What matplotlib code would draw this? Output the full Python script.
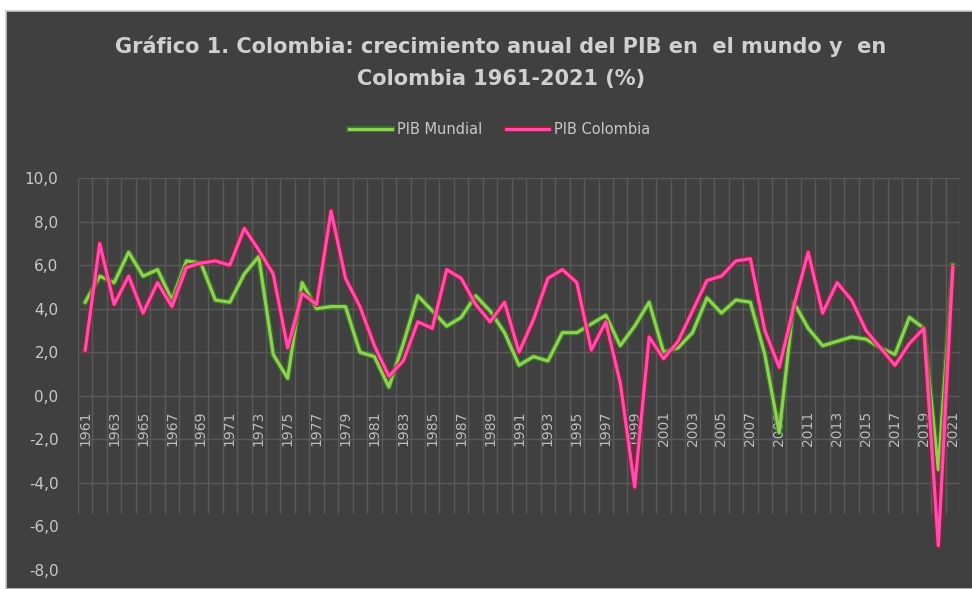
import matplotlib
matplotlib.use('Agg')
import matplotlib.pyplot as plt
import matplotlib.patches as mpatches
import matplotlib.patheffects as pe
from matplotlib.ticker import FuncFormatter

# Data (annual GDP growth, %)
years = list(range(1961, 2022))
pib_mundial = [4.3, 5.5, 5.2, 6.6, 5.5, 5.8, 4.4, 6.2, 6.1, 4.4,
               4.3, 5.6, 6.4, 1.9, 0.8, 5.2, 4.0, 4.1, 4.1, 2.0,
               1.8, 0.4, 2.4, 4.6, 3.9, 3.2, 3.6, 4.6, 3.9, 2.9,
               1.4, 1.8, 1.6, 2.9, 2.9, 3.3, 3.7, 2.3, 3.2, 4.3,
               2.0, 2.2, 2.9, 4.5, 3.8, 4.4, 4.3, 1.9, -1.7, 4.3,
               3.1, 2.3, 2.5, 2.7, 2.6, 2.2, 1.9, 3.6, 3.1, -3.4,
               6.0]
pib_colombia = [2.1, 7.0, 4.2, 5.5, 3.8, 5.2, 4.1, 5.9, 6.1, 6.2,
                6.0, 7.7, 6.7, 5.6, 2.2, 4.7, 4.2, 8.5, 5.4, 4.1,
                2.3, 0.9, 1.6, 3.4, 3.1, 5.8, 5.4, 4.2, 3.4, 4.3,
                2.0, 3.5, 5.4, 5.8, 5.2, 2.1, 3.4, 0.6, -4.2, 2.7,
                1.7, 2.5, 3.9, 5.3, 5.5, 6.2, 6.3, 3.0, 1.3, 4.1,
                6.6, 3.8, 5.2, 4.4, 3.0, 2.2, 1.4, 2.4, 3.1, -6.9,
                5.9]

label_mundial = 'PIB Mundial'
label_colombia = 'PIB Colombia'
title = 'Gráfico 1. Colombia: crecimiento anual del PIB en  el mundo y  en\nColombia 1961-2021 (%)'

bg = '#404040'
grid_col = '#5a5a5a'
text_col = '#d0d0d0'
green = '#92d050'
pink = '#ff4db8'

fig = plt.figure(figsize=(9.72, 5.89), dpi=100, facecolor='white')

# dark chart area with a thin light border (top-left corner visible)
fig.patches.append(mpatches.Rectangle((6 / 972, 0), 1.0, 1 - 11 / 589,
                                      transform=fig.transFigure, facecolor=bg,
                                      edgecolor='#c8c8c8', linewidth=1.2, zorder=-10))

ax = fig.add_axes([78 / 972, 0.0, (960 - 78) / 972, (589 - 178.3) / 589])
ax.set_facecolor('none')
ax.set_xlim(1960.5, 2021.5)
ax.set_ylim(-8.89, 10)

# grid: horizontal lines from -4 to 10, vertical lines between categories
for v in range(-4, 11, 2):
    ax.plot([1960.5, 2021.5], [v, v], color=grid_col, lw=1.0, zorder=1)
for x in range(1961, 2023):
    ax.plot([x - 0.5, x - 0.5], [-5.4, 10], color=grid_col, lw=1.0, zorder=1)

glow_g = [pe.Stroke(linewidth=4.2, foreground='#2f8a1e', alpha=0.7), pe.Normal()]
glow_p = [pe.Stroke(linewidth=4.2, foreground='#c0102a', alpha=0.7), pe.Normal()]
l1, = ax.plot(years, pib_mundial, color=green, lw=2.3, zorder=3,
              path_effects=glow_g, solid_joinstyle='round')
l2, = ax.plot(years, pib_colombia, color=pink, lw=2.3, zorder=4,
              path_effects=glow_p, solid_joinstyle='round')

for s in ax.spines.values():
    s.set_visible(False)
ax.spines['bottom'].set_position(('data', 0))

ax.set_xticks(years[::2])
ax.set_xticklabels([str(y) for y in years[::2]], rotation=90, va='top',
                   color='#bdbdbd', fontsize=10)
ax.set_yticks(range(-8, 11, 2))
ax.yaxis.set_major_formatter(FuncFormatter(lambda v, p: f'{v:.1f}'.replace('.', ',')))
ax.tick_params(axis='x', length=0, pad=11)
ax.tick_params(axis='y', length=0, pad=14, labelcolor='#c8c8c8', labelsize=11)

fig.text(0.515, 1 - 62 / 589, title, ha='center', va='center', color=text_col,
         fontsize=15, fontweight='bold', linespacing=1.75)

fig.legend([l1, l2], [label_mundial, label_colombia], loc='center',
           bbox_to_anchor=(0.514, 1 - 130 / 589), ncol=2, frameon=False,
           fontsize=10.5, labelcolor='#c8c8c8', handlelength=2.95,
           handletextpad=0.35, columnspacing=1.6)

plt.savefig('out.png', dpi=100, facecolor=fig.get_facecolor())
